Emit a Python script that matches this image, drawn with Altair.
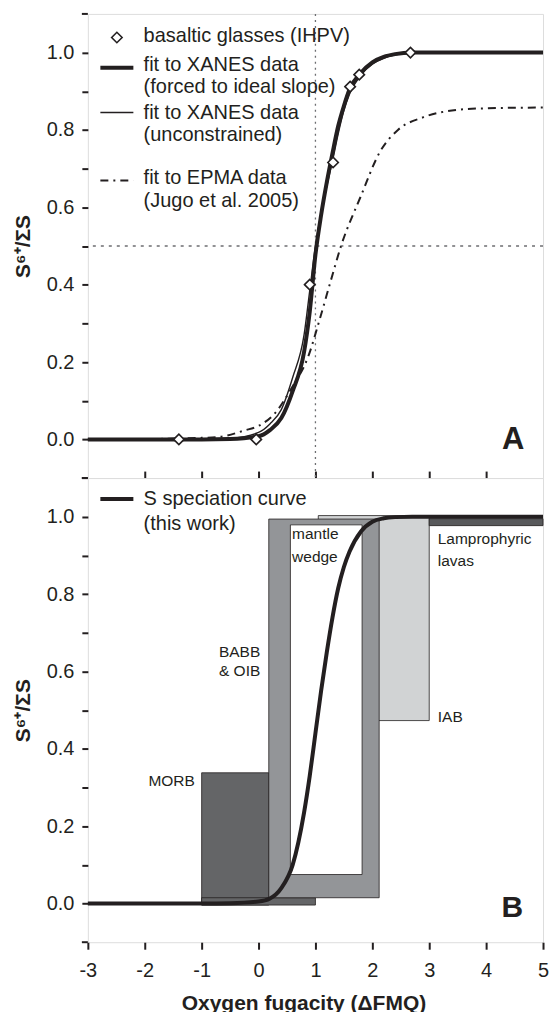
import altair as alt
import pandas as pd

# ---------------- values ----------------
x_tick_values = [-3, -2, -1, 0, 1, 2, 3, 4, 5]
y_tick_values = [0.0, 0.1, 0.2, 0.3, 0.4, 0.5, 0.6, 0.7, 0.8, 0.9, 1.0]
y_edge_ticks = [-0.1, 1.1]
y_tick_labels = ["0.0", "0.2", "0.4", "0.6", "0.8", "1.0"]

# Panel A: basaltic glasses (IHPV)
glass_x = [-1.40, -0.04, 0.90, 1.31, 1.61, 1.77, 2.67]
glass_y = [0.0, 0.0, 0.40, 0.716, 0.912, 0.943, 1.0]

# Panel A / B fitted curves
curve_x = [-3.0, -1.0, -0.5, 0.0, 0.2, 0.4, 0.6, 0.8, 0.9, 1.0, 1.1, 1.2, 1.3,
           1.4, 1.5, 1.6, 1.8, 2.0, 2.2, 2.4, 2.7, 3.0, 5.0]
forced_y = [0.0, 0.0, 0.001, 0.008, 0.024, 0.055, 0.125, 0.226, 0.33, 0.477, 0.58,
            0.665, 0.74, 0.81, 0.862, 0.905, 0.948, 0.975, 0.989, 0.996, 1.0, 1.0, 1.0]
unconstrained_y = [0.0, 0.0005, 0.003, 0.018, 0.04, 0.077, 0.16, 0.27, 0.385, 0.50,
                   0.585, 0.655, 0.72, 0.79, 0.85, 0.893, 0.942, 0.97, 0.985, 0.994,
                   0.999, 1.0, 1.0]
epma_x = [-3.0, -2.0, -1.5, -1.0, -0.7, -0.25, 0.0, 0.28, 0.59, 0.87, 1.08, 1.25,
          1.45, 1.79, 2.14, 2.45, 2.9, 3.5, 4.0, 5.0]
epma_y = [0.0, 0.0005, 0.002, 0.004, 0.006, 0.023, 0.035, 0.066, 0.135, 0.213,
          0.313, 0.40, 0.50, 0.626, 0.745, 0.80, 0.833, 0.852, 0.856, 0.858]
speciation_y = [0.0, 0.0001, 0.0008, 0.005, 0.013, 0.04, 0.10, 0.235, 0.33, 0.44,
                0.55, 0.65, 0.74, 0.815, 0.87, 0.91, 0.962, 0.987, 0.996, 0.999,
                1.0, 1.0, 1.0]

# Panel B: ranges of natural samples
range_names = ["MORB", "MORB", "IAB", "Lamprophyric lavas", "BABB & OIB", "mantle wedge"]
range_x1 = [-1.0, -1.0, 1.05, 3.0, 0.18, 0.56]
range_x2 = [0.18, 1.0, 3.0, 5.0, 2.12, 1.82]
range_y1 = [-0.004, -0.004, 0.473, 0.977, 0.015, 0.075]
range_y2 = [0.338, 0.015, 1.003, 0.995, 0.994, 0.979]

# Panel B: annotations (data coordinates)
ann_right_text = ["MORB", "BABB", "& OIB"]
ann_right_x = [-1.12, 0.03, 0.03]
ann_right_y = [0.318, 0.651, 0.60]
ann_left_text = ["mantle", "wedge", "Lamprophyric", "lavas", "IAB"]
ann_left_x = [0.59, 0.59, 3.15, 3.15, 3.15]
ann_left_y = [0.956, 0.897, 0.943, 0.886, 0.483]

# Legends (labels)
legend_a_labels = ["basaltic glasses (IHPV)", "fit to XANES data", "(forced to ideal slope)",
                   "fit to XANES data", "(unconstrained)", "fit to EPMA data",
                   "(Jugo et al. 2005)"]
legend_b_labels = ["S speciation curve", "(this work)"]

# ---------------- layout / style ----------------
FONT = "Liberation Sans"
INK = "#231f20"
W, H = 456, 465

range_domain = ["MORB", "IAB", "Lamprophyric lavas", "BABB & OIB", "mantle wedge"]
range_colors = ["#646567", "#d1d3d4", "#58595b", "#939598", "#ffffff"]

legend_text_x = -2.02
legend_a_text_y = [1.044, 0.969, 0.910, 0.845, 0.786, 0.677, 0.617]
legend_sample_x1, legend_sample_x2 = -2.78, -2.20
legend_a_diamond = (-2.49, 1.039)
legend_a_sample_y = {"forced": 0.961, "unconstrained": 0.845, "epma": 0.669}
legend_b_text_y = [1.046, 0.982]
legend_b_sample_y = 1.046

DASHDOT = [8, 5, 2, 5]

xscale = alt.Scale(domain=[-3, 5], nice=False, zero=False)
yscale = alt.Scale(domain=[-0.1, 1.1], nice=False, zero=False)

label_expr = ("indexof([" + ",".join("'%s'" % s for s in y_tick_labels) +
              "], format(datum.value, '.1f')) >= 0 ? format(datum.value, '.1f') : ''")

y_axis = alt.Axis(values=y_tick_values, labelExpr=label_expr, labelOverlap=False,
                  tickSize=6, tickWidth=2, tickColor=INK, labelPadding=8,
                  labelFontSize=20, labelColor=INK, labelFont=FONT,
                  domain=False, grid=False, title="S⁶⁺/ΣS", titleFontSize=21,
                  titleFontWeight="bold", titleColor=INK, titleFont=FONT,
                  titlePadding=13)

xa_axis = alt.Axis(values=x_tick_values[1:-1], labels=False, title=None, domain=False,
                   grid=False, tickSize=7, tickWidth=2, tickColor=INK, offset=-7)

xb_axis = alt.Axis(values=x_tick_values, labelExpr="'' + datum.value", labelFlush=False,
                   labelOverlap=False, labelFontSize=20, labelPadding=11, labelColor=INK,
                   labelFont=FONT, tickSize=7, tickWidth=2, tickColor=INK, domain=False,
                   grid=False, title="Oxygen fugacity (ΔFMQ)", titleFontSize=21,
                   titleFontWeight="bold", titleColor=INK, titleFont=FONT,
                   titleX=216, titleY=50)


def X(field, axis):
    return alt.X(field, type="quantitative", scale=xscale, axis=axis)


def Y(field):
    return alt.Y(field, type="quantitative", scale=yscale, axis=y_axis)


def edge_ticks():
    return alt.Chart(pd.DataFrame({"y": y_edge_ticks})).mark_rule(
        color=INK, strokeWidth=2).encode(x=alt.value(-6), x2=alt.value(0), y=Y("y"))


# ---------------- panel A ----------------
def panel_a():
    xa = xa_axis
    one = pd.DataFrame({"x": [1.0], "y": [0.5]})
    vline = alt.Chart(one).mark_rule(color="#6d6e71", strokeWidth=1.3, strokeDash=[2, 4]).encode(
        x=X("x", xa))
    hline = alt.Chart(one).mark_rule(color="#6d6e71", strokeWidth=1.3, strokeDash=[3, 5]).encode(
        y=Y("y"))

    epma = alt.Chart(pd.DataFrame({"x": epma_x, "y": epma_y})).mark_line(
        color=INK, strokeWidth=2, strokeDash=DASHDOT, interpolate="monotone").encode(
        x=X("x", xa), y=Y("y"))
    uncon = alt.Chart(pd.DataFrame({"x": curve_x, "y": unconstrained_y})).mark_line(
        color=INK, strokeWidth=1.4, interpolate="monotone").encode(x=X("x", xa), y=Y("y"))
    forced = alt.Chart(pd.DataFrame({"x": curve_x, "y": forced_y})).mark_line(
        color=INK, strokeWidth=4, interpolate="monotone").encode(x=X("x", xa), y=Y("y"))
    glass = alt.Chart(pd.DataFrame({"x": glass_x, "y": glass_y})).mark_point(
        shape="diamond", size=110, filled=True, fill="white", stroke=INK, strokeWidth=1.6,
        opacity=1).encode(x=X("x", xa), y=Y("y"))

    # legend
    leg_txt = alt.Chart(pd.DataFrame({"x": [legend_text_x] * len(legend_a_labels),
                                      "y": legend_a_text_y, "t": legend_a_labels})).mark_text(
        align="left", baseline="middle", fontSize=20, font=FONT, color=INK).encode(
        x=X("x", xa), y=Y("y"), text="t:N")
    leg_dia = alt.Chart(pd.DataFrame({"x": [legend_a_diamond[0]], "y": [legend_a_diamond[1]]})).mark_point(
        shape="diamond", size=110, filled=True, fill="white", stroke=INK, strokeWidth=1.6,
        opacity=1).encode(x=X("x", xa), y=Y("y"))

    def sample(y, width, dash=None):
        kw = dict(color=INK, strokeWidth=width)
        if dash:
            kw["strokeDash"] = dash
        return alt.Chart(pd.DataFrame({"x": [legend_sample_x1], "x2": [legend_sample_x2],
                                       "y": [y]})).mark_rule(**kw).encode(
            x=X("x", xa), x2="x2", y=Y("y"))

    s1 = sample(legend_a_sample_y["forced"], 4)
    s2 = sample(legend_a_sample_y["unconstrained"], 1.4)
    s3 = sample(legend_a_sample_y["epma"], 2, DASHDOT)

    lab = alt.Chart(pd.DataFrame({"x": [4.67], "y": [-0.026], "t": ["A"]})).mark_text(
        align="right", baseline="alphabetic", fontSize=31, fontWeight="bold", font=FONT,
        color=INK).encode(x=X("x", xa), y=Y("y"), text="t:N")

    return alt.layer(vline, hline, epma, uncon, forced, glass, leg_txt, leg_dia, s1, s2, s3,
                     lab, edge_ticks()).properties(width=W, height=H)


# ---------------- panel B ----------------
def panel_b():
    xb = xb_axis
    rdf = pd.DataFrame({"name": range_names, "x": range_x1, "x2": range_x2,
                        "y": range_y1, "y2": range_y2, "order": list(range(len(range_names)))})
    rects = alt.Chart(rdf).mark_rect(stroke=INK, strokeWidth=0.8).encode(
        x=X("x", xb), x2="x2", y=Y("y"), y2="y2",
        fill=alt.Fill("name:N", scale=alt.Scale(domain=range_domain, range=range_colors),
                      legend=None),
        order=alt.Order("order:Q"))
    curve = alt.Chart(pd.DataFrame({"x": curve_x, "y": speciation_y})).mark_line(
        color=INK, strokeWidth=4, interpolate="monotone").encode(x=X("x", xb), y=Y("y"))

    ann_r = alt.Chart(pd.DataFrame({"x": ann_right_x, "y": ann_right_y, "t": ann_right_text})).mark_text(
        align="right", baseline="middle", fontSize=15.5, font=FONT, color=INK).encode(
        x=X("x", xb), y=Y("y"), text="t:N")
    ann_l = alt.Chart(pd.DataFrame({"x": ann_left_x, "y": ann_left_y, "t": ann_left_text})).mark_text(
        align="left", baseline="middle", fontSize=15.5, font=FONT, color=INK).encode(
        x=X("x", xb), y=Y("y"), text="t:N")

    leg_txt = alt.Chart(pd.DataFrame({"x": [legend_text_x] * len(legend_b_labels),
                                      "y": legend_b_text_y, "t": legend_b_labels})).mark_text(
        align="left", baseline="middle", fontSize=20, font=FONT, color=INK).encode(
        x=X("x", xb), y=Y("y"), text="t:N")
    leg_line = alt.Chart(pd.DataFrame({"x": [legend_sample_x1], "x2": [legend_sample_x2],
                                       "y": [legend_b_sample_y]})).mark_rule(
        color=INK, strokeWidth=4).encode(x=X("x", xb), x2="x2", y=Y("y"))

    lab = alt.Chart(pd.DataFrame({"x": [4.65], "y": [-0.034], "t": ["B"]})).mark_text(
        align="right", baseline="alphabetic", fontSize=30, fontWeight="bold", font=FONT,
        color=INK).encode(x=X("x", xb), y=Y("y"), text="t:N")

    return alt.layer(rects, curve, ann_r, ann_l, leg_txt, leg_line, lab,
                     edge_ticks()).properties(width=W, height=H)


chart = alt.vconcat(panel_a(), panel_b(), spacing=0, bounds="flush").configure_view(
    stroke=INK, strokeWidth=2.5).configure(
    font=FONT, padding={"left": 3, "top": 3, "right": 0, "bottom": 0})

chart.save("out.html", embed_options={"renderer": "svg", "actions": False})
